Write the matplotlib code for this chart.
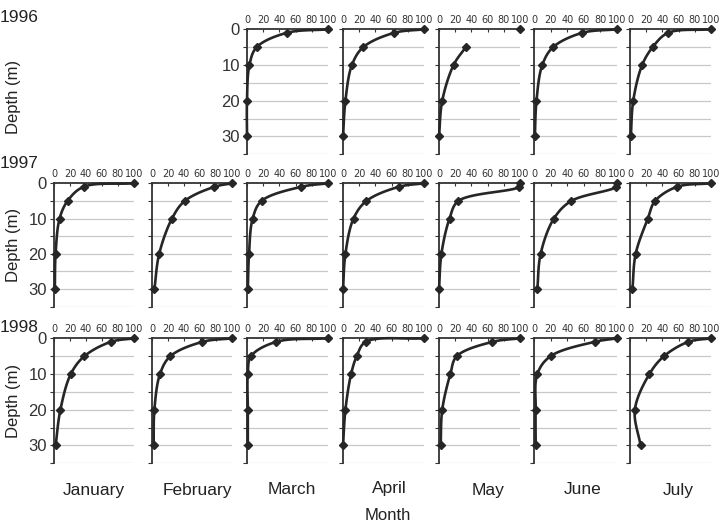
import numpy as np
import matplotlib
matplotlib.use('Agg')
import matplotlib.pyplot as plt

nan = np.nan
depths = [0, 1, 5, 10, 20, 30]
months = ['January', 'February', 'March', 'April', 'May', 'June', 'July']
years = ['1996', '1997', '1998']
x_ticks = [0, 20, 40, 60, 80, 100]
y_ticks_labeled = [0, 10, 20, 30]

# 1996 (January, February missing)
v1996 = [None, None,
         [100, 49, 12, 3, 0, 0],
         [100, 63, 25, 11, 3, 0],
         [100, nan, 33, 18, 4, 0],
         [100, 58, 23, 10, 3, 1],
         [100, 47, 28, 15, 4, 1]]
# 1997
v1997 = [[100, 37, 17, 7, 2, 1],
         [100, 78, 41, 25, 9, 3],
         [100, 67, 18, 7, 2.5, 1],
         [100, 69, 29, 13, 3, 0],
         [100, 99, 24, 13, 3, 0],
         [100, 99, 45, 24, 8, 4],
         [100, 58, 31, 22, 7, 3]]
# 1998
v1998 = [[100, 71, 38, 21, 8, 2],
         [100, 63, 23, 10, 3, 2],
         [100, 36, 5, 1, 1, 1],
         [100, 28, 17, 10, 3, 0],
         [100, 66, 22, 14, 4, 2],
         [100, 73, 20, 4, 2, 2],
         [100, 72, 42, 24, 6, 13]]
data = [v1996, v1997, v1998]

W, H = 720, 523
fig = plt.figure(figsize=(W / 100, H / 100), dpi=100)
fig.patch.set_facecolor('white')

col_left = [54, 152, 247, 343, 439, 534, 630]
col_w = [80, 80, 81, 81, 81, 83, 81]
row_top = [29.3, 183.3, 338.3]
row_bot = [154.3, 306.7, 463.3]

dark = '#262626'
grid_c = '#c8c8c8'
small_font = ['Liberation Sans Narrow', 'DejaVu Sans Condensed', 'DejaVu Sans']
big_font = ['Liberation Sans', 'DejaVu Sans']


def smooth(xs, ys, sx, sy, n=20):
    # centripetal Catmull-Rom through data points (drawn in pixel-like space)
    P = np.column_stack([np.asarray(xs) * sx, np.asarray(ys) * sy])
    if len(P) < 2:
        return np.asarray(xs), np.asarray(ys)
    ext = np.vstack([2 * P[0] - P[1], P, 2 * P[-1] - P[-2]])
    out = []
    for i in range(1, len(ext) - 2):
        p0, p1, p2, p3 = ext[i - 1], ext[i], ext[i + 1], ext[i + 2]
        def tj(ti, a, b):
            return ti + max(np.linalg.norm(b - a), 1e-6) ** 0.5
        t0 = 0.0
        t1 = tj(t0, p0, p1)
        t2 = tj(t1, p1, p2)
        t3 = tj(t2, p2, p3)
        t = np.linspace(t1, t2, n)[:, None]
        A1 = (t1 - t) / (t1 - t0) * p0 + (t - t0) / (t1 - t0) * p1
        A2 = (t2 - t) / (t2 - t1) * p1 + (t - t1) / (t2 - t1) * p2
        A3 = (t3 - t) / (t3 - t2) * p2 + (t - t2) / (t3 - t2) * p3
        B1 = (t2 - t) / (t2 - t0) * A1 + (t - t0) / (t2 - t0) * A2
        B2 = (t3 - t) / (t3 - t1) * A2 + (t - t1) / (t3 - t1) * A3
        C = (t2 - t) / (t2 - t1) * B1 + (t - t1) / (t2 - t1) * B2
        out.append(C if i == 1 else C[1:])
    C = np.vstack(out)
    return C[:, 0] / sx, C[:, 1] / sy


for r in range(3):
    for c in range(7):
        vals = data[r][c]
        if vals is None:
            continue
        left = col_left[c] / W
        width = col_w[c] / W
        bottom = 1 - row_bot[r] / H
        height = (row_bot[r] - row_top[r]) / H
        ax = fig.add_axes([left, bottom, width, height])
        ax.set_xlim(0, 100)
        ax.set_ylim(35, 0)
        for g in range(5, 40, 5):
            ax.axhline(g, color=grid_c, lw=0.9, zorder=0)
        for s in ['right', 'bottom']:
            ax.spines[s].set_visible(False)
        for s in ['top', 'left']:
            ax.spines[s].set_color('#333333')
            ax.spines[s].set_linewidth(1.3)
        ax.xaxis.tick_top()
        ax.set_xticks(x_ticks)
        ax.set_xticklabels([str(t) for t in x_ticks], family=small_font, fontsize=7)
        ax.tick_params(axis='x', direction='in', length=2.5, width=0.8, pad=3,
                       colors='#333333', labelcolor='#333333')
        ax.set_yticks(list(range(0, 40, 5)))
        ax.tick_params(axis='y', direction='out', length=3, width=0.8, colors='#333333',
                       labelcolor='#333333')
        first = (r == 0 and c == 2) or (r > 0 and c == 0)
        if first:
            ax.set_yticklabels([str(t) if t in y_ticks_labeled else '' for t in range(0, 40, 5)],
                               family=big_font, fontsize=12)
            ax.tick_params(axis='y', pad=2)
        else:
            ax.set_yticklabels([])
        xs = np.asarray(vals, dtype=float)
        ys = np.asarray(depths, dtype=float)
        ok = np.isfinite(xs)
        idx = np.where(ok)[0]
        runs = np.split(idx, np.where(np.diff(idx) != 1)[0] + 1)
        for run in runs:
            if len(run) >= 2:
                sxv, syv = smooth(xs[run], ys[run], 0.8, 3.55)
                ax.plot(sxv, syv, color=dark, lw=1.9, solid_capstyle='round', clip_on=False, zorder=3)
        ax.plot(xs[ok], ys[ok], linestyle='none', marker='D', ms=4.2, color=dark,
                clip_on=False, zorder=4)
        ax.set_facecolor('none')

# year labels
for yr, ypx in zip(years, [17, 163, 327]):
    fig.text(0 / W, 1 - ypx / H, yr, fontsize=12.5, family=big_font, ha='left', va='center', color='#222222')

# Depth labels
for r in range(3):
    xpx = 14
    ypx = (row_top[r] + row_bot[r]) / 2 + (5 if r == 0 else 0)
    fig.text(xpx / W, 1 - ypx / H, 'Depth (m)', rotation=90, fontsize=12, family=big_font,
             ha='center', va='center', color='#222222')

month_x = [94, 197, 292, 389, 488, 583, 678]
month_y = [490, 490, 490, 488, 490, 490, 490]
for m, mx, my in zip(months, month_x, month_y):
    fig.text(mx / W, 1 - my / H, m, fontsize=12.5, family=big_font, ha='center', va='center', color='#222222')
fig.text(388 / W, 1 - 516 / H, 'Month', fontsize=12, family=big_font, ha='center', va='center', color='#222222')

fig.savefig('out.png', dpi=100, facecolor='white')
